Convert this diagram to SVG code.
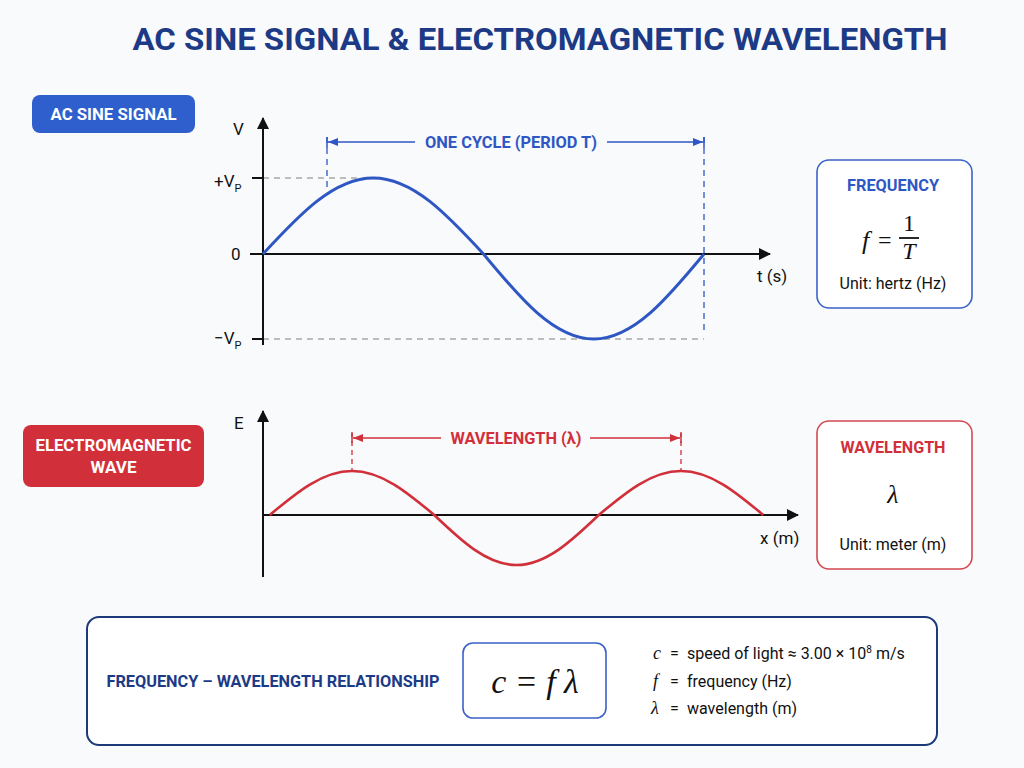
<svg xmlns="http://www.w3.org/2000/svg" width="1024" height="768" viewBox="0 0 1024 768">
<defs>
<style>
.title{font-family:Roboto,"Liberation Sans",sans-serif;font-weight:700;font-size:31px;fill:#1c3a86}
.lbl{font-family:Roboto,"Liberation Sans",sans-serif;font-weight:700;font-size:17px;fill:#fff;text-anchor:middle}
.ax{font-family:Roboto,"Liberation Sans",sans-serif;font-size:17px;fill:#111}
.body{font-family:Roboto,"Liberation Sans",sans-serif;font-size:16px;fill:#111}
.math{font-family:"Liberation Serif","DejaVu Serif",serif;font-style:italic;fill:#111}
.mathn{font-family:"Liberation Serif","DejaVu Serif",serif;fill:#111}
.hb{font-family:Roboto,"Liberation Sans",sans-serif;font-weight:700;font-size:16px;text-anchor:middle}
.axis{stroke:#111;stroke-width:2;fill:none}
.gdash{stroke:#a8a8a8;stroke-width:1.3;stroke-dasharray:6 5;fill:none}
</style>
<marker id="axArr" markerWidth="12" markerHeight="12" viewBox="0 0 12 12" refX="11" refY="6" orient="auto" markerUnits="userSpaceOnUse">
<path d="M0,0 L12,6 L0,12 Z" fill="#111"/>
</marker>
<marker id="bArr" markerWidth="10" markerHeight="10" viewBox="0 0 10 10" refX="10" refY="5" orient="auto-start-reverse" markerUnits="userSpaceOnUse">
<path d="M0,1 L10,5 L0,9 Z" fill="#2f57c4"/>
</marker>
<marker id="rArr" markerWidth="10" markerHeight="10" viewBox="0 0 10 10" refX="10" refY="5" orient="auto-start-reverse" markerUnits="userSpaceOnUse">
<path d="M0,1 L10,5 L0,9 Z" fill="#d12f3a"/>
</marker>
</defs>
<rect width="1024" height="768" fill="#f9fafb"/>
<text class="title" x="540" y="50" text-anchor="middle" textLength="815" lengthAdjust="spacingAndGlyphs">AC SINE SIGNAL &amp; ELECTROMAGNETIC WAVELENGTH</text>

<g id="ac-label">
<rect x="32" y="95" width="163" height="38" rx="8" fill="#2f5fcc"/>
<text class="lbl" x="113.5" y="120" textLength="126" lengthAdjust="spacingAndGlyphs">AC SINE SIGNAL</text>
</g>

<g id="ac-plot">
<line class="gdash" x1="263" y1="178" x2="372" y2="178"/>
<line class="gdash" x1="263" y1="339" x2="704" y2="339"/>
<line x1="327" y1="137" x2="327" y2="190" stroke="#2f57c4" stroke-width="1.3" stroke-dasharray="6 5"/>
<line x1="704" y1="137" x2="704" y2="335" stroke="#2f57c4" stroke-width="1.3" stroke-dasharray="6 5"/>
<line class="axis" x1="263" y1="345" x2="263" y2="118" marker-end="url(#axArr)"/>
<line class="axis" x1="250" y1="254" x2="770" y2="254" marker-end="url(#axArr)"/>
<line class="axis" x1="252" y1="178" x2="263" y2="178"/>
<line class="axis" x1="252" y1="339" x2="263" y2="339"/>
<path d="M263,254 C298.95,215.07 333.54,178 373.25,178 C412.96,178 447.55,215.07 483.5,254 C519.45,297.55 554.04,339 593.75,339 C633.46,339 668.05,297.55 704,254" fill="none" stroke="#2f57c4" stroke-width="3"/>
<text class="ax" x="233" y="135">V</text>
<text class="ax" x="214" y="187">+V<tspan font-size="11" dy="5">P</tspan></text>
<text class="ax" x="231" y="260">0</text>
<text class="ax" x="214" y="344">−V<tspan font-size="11" dy="5">P</tspan></text>
<text class="ax" x="757" y="282">t (s)</text>
</g>

<g id="period-dim">
<line x1="327" y1="137" x2="327" y2="148" stroke="#2f57c4" stroke-width="1.5"/>
<line x1="704" y1="137" x2="704" y2="148" stroke="#2f57c4" stroke-width="1.5"/>
<line x1="328" y1="142" x2="415" y2="142" stroke="#2f57c4" stroke-width="1.6" marker-start="url(#bArr)"/>
<line x1="607" y1="142" x2="703" y2="142" stroke="#2f57c4" stroke-width="1.6" marker-end="url(#bArr)"/>
<text class="hb" x="511" y="148" fill="#2f57c4" textLength="172" lengthAdjust="spacingAndGlyphs">ONE CYCLE (PERIOD T)</text>
</g>

<g id="frequency-box">
<rect x="817" y="160" width="155" height="148" rx="12" fill="#fff" stroke="#3a62c8" stroke-width="1.6"/>
<text class="hb" x="893" y="191" fill="#2f57c4" textLength="92" lengthAdjust="spacingAndGlyphs">FREQUENCY</text>
<text class="math" x="862" y="249" font-size="26">f</text>
<text class="mathn" x="878" y="248" font-size="24">=</text>
<text class="mathn" x="909" y="231" font-size="24" text-anchor="middle">1</text>
<line x1="899" y1="238" x2="919" y2="238" stroke="#111" stroke-width="1.8"/>
<text class="math" x="909" y="259" font-size="24" text-anchor="middle">T</text>
<text class="body" x="893" y="289" text-anchor="middle">Unit: hertz (Hz)</text>
</g>

<g id="em-label">
<rect x="23" y="425" width="181" height="62" rx="8" fill="#d12f3a"/>
<text class="lbl" x="113.5" y="451" font-size="16" textLength="156" lengthAdjust="spacingAndGlyphs">ELECTROMAGNETIC</text>
<text class="lbl" x="113.5" y="473" font-size="16">WAVE</text>
</g>

<g id="em-plot">
<line x1="352" y1="432" x2="352" y2="471" stroke="#d12f3a" stroke-width="1.3" stroke-dasharray="5 4"/>
<line x1="681" y1="432" x2="681" y2="471" stroke="#d12f3a" stroke-width="1.3" stroke-dasharray="5 4"/>
<line class="axis" x1="263" y1="577" x2="263" y2="411" marker-end="url(#axArr)"/>
<line class="axis" x1="263" y1="515" x2="798" y2="515" marker-end="url(#axArr)"/>
<path d="M269.75,515 C296.57,492.46 322.37,471 352,471 C381.63,471 407.43,492.46 434.25,515 C461.07,540.6 486.87,565 516.5,565 C546.13,565 571.93,540.6 598.75,515 C625.57,492.46 651.37,471 681,471 C710.63,471 736.43,492.46 763.25,515" fill="none" stroke="#d12f3a" stroke-width="2.6"/>
<text class="ax" x="234" y="429">E</text>
<text class="ax" x="760" y="544">x (m)</text>
</g>

<g id="wavelength-dim">
<line x1="352" y1="433" x2="352" y2="443" stroke="#d12f3a" stroke-width="1.5"/>
<line x1="681" y1="433" x2="681" y2="443" stroke="#d12f3a" stroke-width="1.5"/>
<line x1="353" y1="438" x2="441" y2="438" stroke="#d12f3a" stroke-width="1.6" marker-start="url(#rArr)"/>
<line x1="590" y1="438" x2="680" y2="438" stroke="#d12f3a" stroke-width="1.6" marker-end="url(#rArr)"/>
<text class="hb" x="516" y="444" fill="#d12f3a" textLength="131" lengthAdjust="spacingAndGlyphs">WAVELENGTH (λ)</text>
</g>

<g id="wavelength-box">
<rect x="817" y="421" width="155" height="148" rx="12" fill="#fff" stroke="#d24a52" stroke-width="1.6"/>
<text class="hb" x="893" y="453" fill="#d12f3a" textLength="105" lengthAdjust="spacingAndGlyphs">WAVELENGTH</text>
<text class="math" x="893" y="503" font-size="26" text-anchor="middle">λ</text>
<text class="body" x="893" y="550" text-anchor="middle">Unit: meter (m)</text>
</g>

<g id="relationship-box">
<rect x="87" y="617" width="850" height="128" rx="12" fill="#fff" stroke="#1c3a7a" stroke-width="2"/>
<text class="hb" x="273" y="687" fill="#1c3a86" textLength="333" lengthAdjust="spacingAndGlyphs">FREQUENCY – WAVELENGTH RELATIONSHIP</text>
<rect x="463" y="643" width="143" height="75" rx="10" fill="#fff" stroke="#3a62c8" stroke-width="1.6"/>
<text class="math" x="535" y="693" font-size="34" text-anchor="middle">c = f λ</text>
<text class="math" x="653" y="659" font-size="18">c</text>
<text class="body" x="670" y="659">=</text>
<text class="body" x="687" y="659">speed of light ≈ 3.00 × 10<tspan font-size="10" dy="-6">8</tspan><tspan dy="6"> m/s</tspan></text>
<text class="math" x="653" y="687" font-size="18">f</text>
<text class="body" x="670" y="687">=</text>
<text class="body" x="687" y="687">frequency (Hz)</text>
<text class="math" x="651" y="714" font-size="18">λ</text>
<text class="body" x="670" y="714">=</text>
<text class="body" x="687" y="714">wavelength (m)</text>
</g>
</svg>
